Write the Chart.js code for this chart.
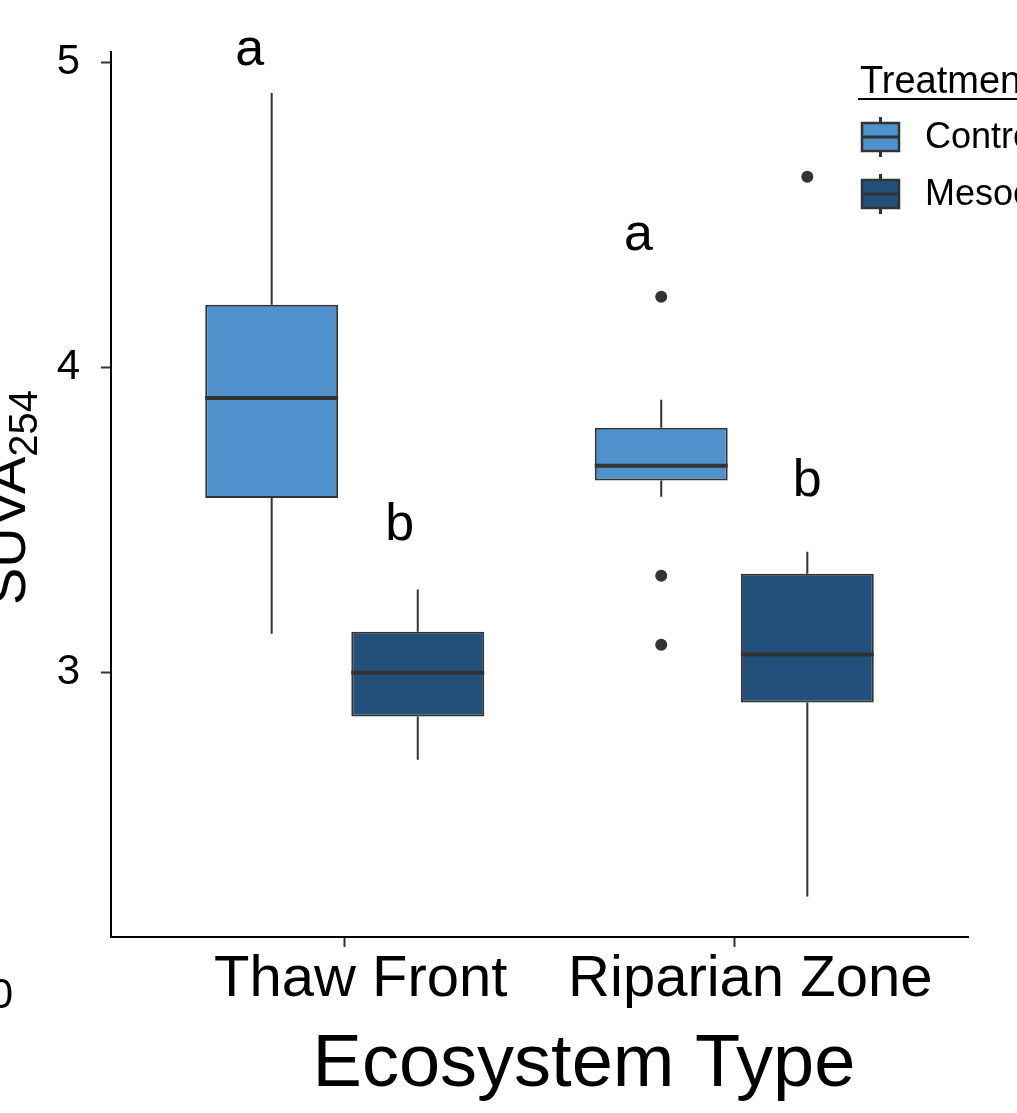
<!DOCTYPE html>
<html>
<head>
<meta charset="utf-8">
<script src="https://cdn.jsdelivr.net/npm/chart.js@4.4.0/dist/chart.umd.min.js"></script>
<style>
  html, body { margin: 0; padding: 0; background: #fff; overflow: hidden; }
  canvas { display: block; }
</style>
</head>
<body>
<canvas id="suvaChart" width="1017" height="1113"></canvas>
<script>
const ecosystems = ['Thaw Front', 'Riparian Zone'];
const treatments = ['Control', 'Mesocosm'];
const treatmentColors = ['#4f91cd', '#23507a'];

// box stats, one value per ecosystem
const controlMin = [3.127, 3.576];
const controlQ1 = [3.572, 3.629];
const controlMedian = [3.900, 3.678];
const controlQ3 = [4.205, 3.802];
const controlMax = [4.899, 3.894];
const controlOutliers = [[], [4.231, 3.317, 3.091]];

const mesoMin = [2.715, 2.267];
const mesoQ1 = [2.856, 2.902];
const mesoMedian = [3.000, 3.059];
const mesoQ3 = [3.134, 3.324];
const mesoMax = [3.272, 3.396];
const mesoOutliers = [[], [4.624]];

// significance letters [Control, Mesocosm] per ecosystem, placed in data coords
const letters = [['a', 'b'], ['a', 'b']];
const letterX = [[0.756, 1.141], [1.754, 2.187]];
const letterY = [[4.991, 3.435], [4.385, 3.579]];

const yTicks = [3, 4, 5];

const FONT = '"Liberation Sans", Arial, Helvetica, sans-serif';
const INK = '#333333';

const boxStats = [
    { min: controlMin, med: controlMedian, max: controlMax, out: controlOutliers },
    { min: mesoMin, med: mesoMedian, max: mesoMax, out: mesoOutliers }
];

const boxParts = {
    id: 'boxParts',
    afterDatasetsDraw(chart) {
        const ctx = chart.ctx;
        const yScale = chart.scales.y;
        const xScale = chart.scales.x;
        ctx.save();
        chart.data.datasets.forEach((ds, di) => {
            const meta = chart.getDatasetMeta(di);
            const st = boxStats[di];
            meta.data.forEach((bar, i) => {
                const p = bar.getProps(['x', 'y', 'base', 'width'], true);
                const top = Math.min(p.y, p.base), bottom = Math.max(p.y, p.base);
                // whiskers
                ctx.strokeStyle = INK;
                ctx.lineWidth = 2;
                ctx.beginPath();
                ctx.moveTo(p.x, top);
                ctx.lineTo(p.x, yScale.getPixelForValue(st.max[i]));
                ctx.moveTo(p.x, bottom);
                ctx.lineTo(p.x, yScale.getPixelForValue(st.min[i]));
                ctx.stroke();
                // median
                const my = yScale.getPixelForValue(st.med[i]);
                ctx.lineWidth = 4;
                ctx.beginPath();
                ctx.moveTo(p.x - p.width / 2, my);
                ctx.lineTo(p.x + p.width / 2, my);
                ctx.stroke();
                // outliers
                ctx.fillStyle = INK;
                st.out[i].forEach(v => {
                    ctx.beginPath();
                    ctx.arc(p.x, yScale.getPixelForValue(v), 6, 0, Math.PI * 2);
                    ctx.fill();
                });
            });
        });

        // letters
        ctx.fillStyle = '#000';
        ctx.font = '52px ' + FONT;
        ctx.textAlign = 'center';
        ctx.textBaseline = 'alphabetic';
        letters.forEach((row, i) => row.forEach((t, j) => {
            ctx.fillText(t, xScale.getPixelForValue(letterX[i][j]), yScale.getPixelForValue(letterY[i][j]));
        }));

        // x title
        ctx.font = '74px ' + FONT;
        ctx.fillText('Ecosystem Type', 584, 1086);

        // y title with subscript
        ctx.save();
        ctx.translate(25, 605);
        ctx.rotate(-Math.PI / 2);
        ctx.textAlign = 'left';
        ctx.font = '56px ' + FONT;
        ctx.fillText('SUVA', 0, 0);
        const w = ctx.measureText('SUVA').width;
        ctx.font = '40px ' + FONT;
        ctx.fillText('254', w, 12);
        ctx.restore();

        // stray cropped label at bottom left
        ctx.font = '42px ' + FONT;
        ctx.textAlign = 'right';
        ctx.fillText('0', 13, 1008);

        // legend
        ctx.textAlign = 'left';
        ctx.font = '38px ' + FONT;
        ctx.fillText('Treatment', 860, 93);
        ctx.fillRect(858, 98, 170, 2);
        ctx.font = '36px ' + FONT;
        ctx.textBaseline = 'middle';
        treatments.forEach((t, k) => {
            const cy = 137 + k * 57;
            ctx.fillStyle = treatmentColors[k];
            ctx.fillRect(862, cy - 14, 37, 28);
            ctx.strokeStyle = INK;
            ctx.lineWidth = 2.5;
            ctx.strokeRect(862, cy - 14, 37, 28);
            ctx.lineWidth = 3;
            ctx.beginPath();
            ctx.moveTo(880.5, cy - 20); ctx.lineTo(880.5, cy - 14);
            ctx.moveTo(880.5, cy + 14); ctx.lineTo(880.5, cy + 20);
            ctx.stroke();
            ctx.beginPath();
            ctx.moveTo(862, cy); ctx.lineTo(899, cy);
            ctx.stroke();
            ctx.fillStyle = '#000';
            ctx.fillText(t, 925, cy + 1);
        });
        ctx.restore();
    }
};

new Chart(document.getElementById('suvaChart'), {
    type: 'bar',
    data: {
        datasets: [{
            label: treatments[0],
            data: ecosystems.map((e, i) => ({ x: i + 1, y: [controlQ1[i], controlQ3[i]] })),
            backgroundColor: treatmentColors[0],
            borderColor: INK,
            borderWidth: 2,
            borderSkipped: false
        }, {
            label: treatments[1],
            data: ecosystems.map((e, i) => ({ x: i + 1, y: [mesoQ1[i], mesoQ3[i]] })),
            backgroundColor: treatmentColors[1],
            borderColor: INK,
            borderWidth: 2,
            borderSkipped: false
        }]
    },
    options: {
        responsive: false,
        animation: false,
        categoryPercentage: 0.75,
        barPercentage: 0.91,
        layout: { padding: { left: 0, top: 52, right: 49, bottom: 0 } },
        plugins: {
            legend: { display: false },
            tooltip: { enabled: false }
        },
        scales: {
            x: {
                type: 'linear',
                min: 0.4,
                max: 2.6,
                offset: false,
                afterBuildTicks: s => { s.ticks = ecosystems.map((e, i) => ({ value: i + 1 })); },
                afterFit: s => { s.height = 176; },
                grid: { offset: false, drawOnChartArea: false, drawTicks: true, tickLength: 10, tickColor: INK, tickWidth: 2 },
                border: { display: true, color: '#000', width: 2 },
                ticks: {
                    callback: v => ecosystems[Math.round(v) - 1],
                    font: { family: FONT, size: 58, lineHeight: 1 },
                    color: '#000',
                    padding: 4,
                    labelOffset: 16,
                    maxRotation: 0,
                    autoSkip: false
                }
            },
            y: {
                min: 2.134,
                max: 5.033,
                afterBuildTicks: s => { s.ticks = yTicks.map(v => ({ value: v })); },
                afterFit: s => { s.width = 111; },
                grid: { drawOnChartArea: false, drawTicks: true, tickLength: 10, tickColor: INK, tickWidth: 2 },
                border: { display: true, color: '#000', width: 2 },
                ticks: {
                    font: { family: FONT, size: 42 },
                    color: '#000',
                    padding: 21
                }
            }
        }
    },
    plugins: [boxParts]
});
</script>
</body>
</html>
